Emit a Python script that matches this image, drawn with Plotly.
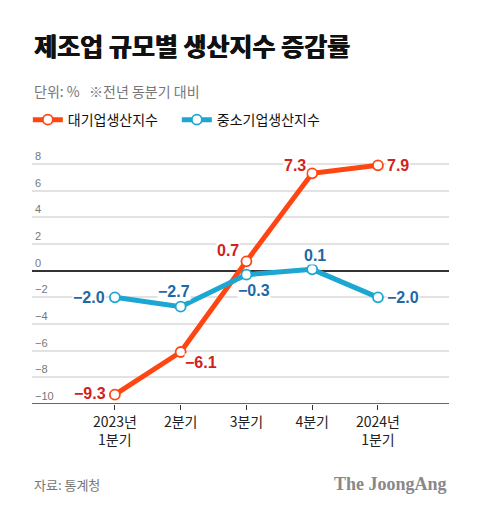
import plotly.graph_objects as go

categories = ["2023년<br>1분기", "2분기", "3분기", "4분기", "2024년<br>1분기"]
large = [-9.3, -6.1, 0.7, 7.3, 7.9]
sme = [-2.0, -2.7, -0.3, 0.1, -2.0]
large_labels = ["−9.3", "−6.1", "0.7", "7.3", "7.9"]
sme_labels = ["−2.0", "−2.7", "−0.3", "0.1", "−2.0"]
y_ticks = [-10, -8, -6, -4, -2, 0, 2, 4, 6, 8]
y_ticktext = ["−10", "−8", "−6", "−4", "−2", "0", "2", "4", "6", "8"]

ORANGE = "#FF4612"
BLUE = "#1BA7D2"
RED_TXT = "#D1221C"
BLUE_TXT = "#1F68A6"
KR = "Noto Sans CJK KR"

x = list(range(len(categories)))

fig = go.Figure()
fig.add_trace(go.Scatter(
    x=x, y=large, name="대기업생산지수", mode="lines+markers",
    line=dict(color=ORANGE, width=5),
    marker=dict(size=10, color="white", line=dict(color=ORANGE, width=1.8)),
    cliponaxis=False, hoverinfo="skip"))
fig.add_trace(go.Scatter(
    x=x, y=sme, name="중소기업생산지수", mode="lines+markers",
    line=dict(color=BLUE, width=5),
    marker=dict(size=10, color="white", line=dict(color=BLUE, width=1.8)),
    cliponaxis=False, hoverinfo="skip"))

# label placement styles (anchor, xshift, yshift)
large_pos = [("right", -8, 1), ("left", 3, -10), ("right", -6, 11), ("right", -5, 8), ("left", 8, 0)]
sme_pos = [("right", -9, 0), ("center", -7, 15), ("center", 8, -16), ("center", 3, 14), ("left", 8, 0)]

annotations = []
for xi, v, t, (anc, xs, ys) in zip(x, large, large_labels, large_pos):
    annotations.append(dict(x=xi, y=v, text=f"<b>{t}</b>", showarrow=False, xanchor=anc,
                            yanchor="middle", xshift=xs, yshift=ys, bgcolor="white", borderpad=0,
                            font=dict(family="Liberation Sans", size=16, color=RED_TXT)))
for xi, v, t, (anc, xs, ys) in zip(x, sme, sme_labels, sme_pos):
    annotations.append(dict(x=xi, y=v, text=f"<b>{t}</b>", showarrow=False, xanchor=anc,
                            yanchor="middle", xshift=xs, yshift=ys, bgcolor="white", borderpad=0,
                            font=dict(family="Liberation Sans", size=16, color=BLUE_TXT)))

# title, subtitle, source, brand
annotations += [
    dict(xref="paper", yref="paper", x=0, y=1.381, xanchor="left", yanchor="middle",
         text="<b>제조업 규모별 생산지수 증감률</b>", showarrow=False,
         font=dict(family=KR, size=25, color="#111",
                   shadow="0.7px 0px 0px #111, -0.3px 0px 0px #111")),
    dict(xref="paper", yref="paper", x=0, y=1.204, xanchor="left", yanchor="middle",
         text="단위: %   ※전년 동분기 대비", showarrow=False,
         font=dict(family=KR, size=14, color="#777")),
    dict(xref="paper", yref="paper", x=0, y=-0.308, xanchor="left", yanchor="middle",
         text="자료: 통계청", showarrow=False,
         font=dict(family=KR, size=13, color="#777")),
    dict(xref="paper", yref="paper", x=1, y=-0.308, xanchor="right", yanchor="middle",
         text="<b>The JoongAng</b>", showarrow=False,
         font=dict(family="Liberation Serif", size=18, color="#888")),
]

fig.update_layout(
    width=480, height=516,
    margin=dict(l=32, r=31, t=144, b=112),
    paper_bgcolor="white", plot_bgcolor="white",
    showlegend=True,
    legend=dict(orientation="h", x=-0.01, y=1.092, xanchor="left", yanchor="middle",
                font=dict(family=KR, size=14, color="#111"), itemwidth=30,
                tracegroupgap=0, entrywidthmode="pixels", entrywidth=104),
    annotations=annotations,
    xaxis=dict(range=[-1.26, 5.08], tickvals=x, ticktext=categories,
               showgrid=False, zeroline=False, showline=False,
               ticks="outside", ticklen=5, tickcolor="#333", tickwidth=1,
               tickfont=dict(family=KR, size=14, color="#222"), fixedrange=True),
    yaxis=dict(range=[-10, 9.5], tickvals=y_ticks, ticktext=y_ticktext,
               showgrid=True, gridcolor="#E2E2E2", gridwidth=1.5,
               zeroline=True, zerolinecolor="#333", zerolinewidth=1.5,
               showline=False, ticks="",
               ticklabelposition="inside top",
               tickfont=dict(family="Liberation Sans", size=11, color="#777"),
               fixedrange=True),
    shapes=[dict(type="line", xref="paper", yref="y", x0=0, x1=1, y0=-10, y1=-10,
                 line=dict(color="#333", width=1.5), layer="above")],
)

fig.write_html("out.html")
